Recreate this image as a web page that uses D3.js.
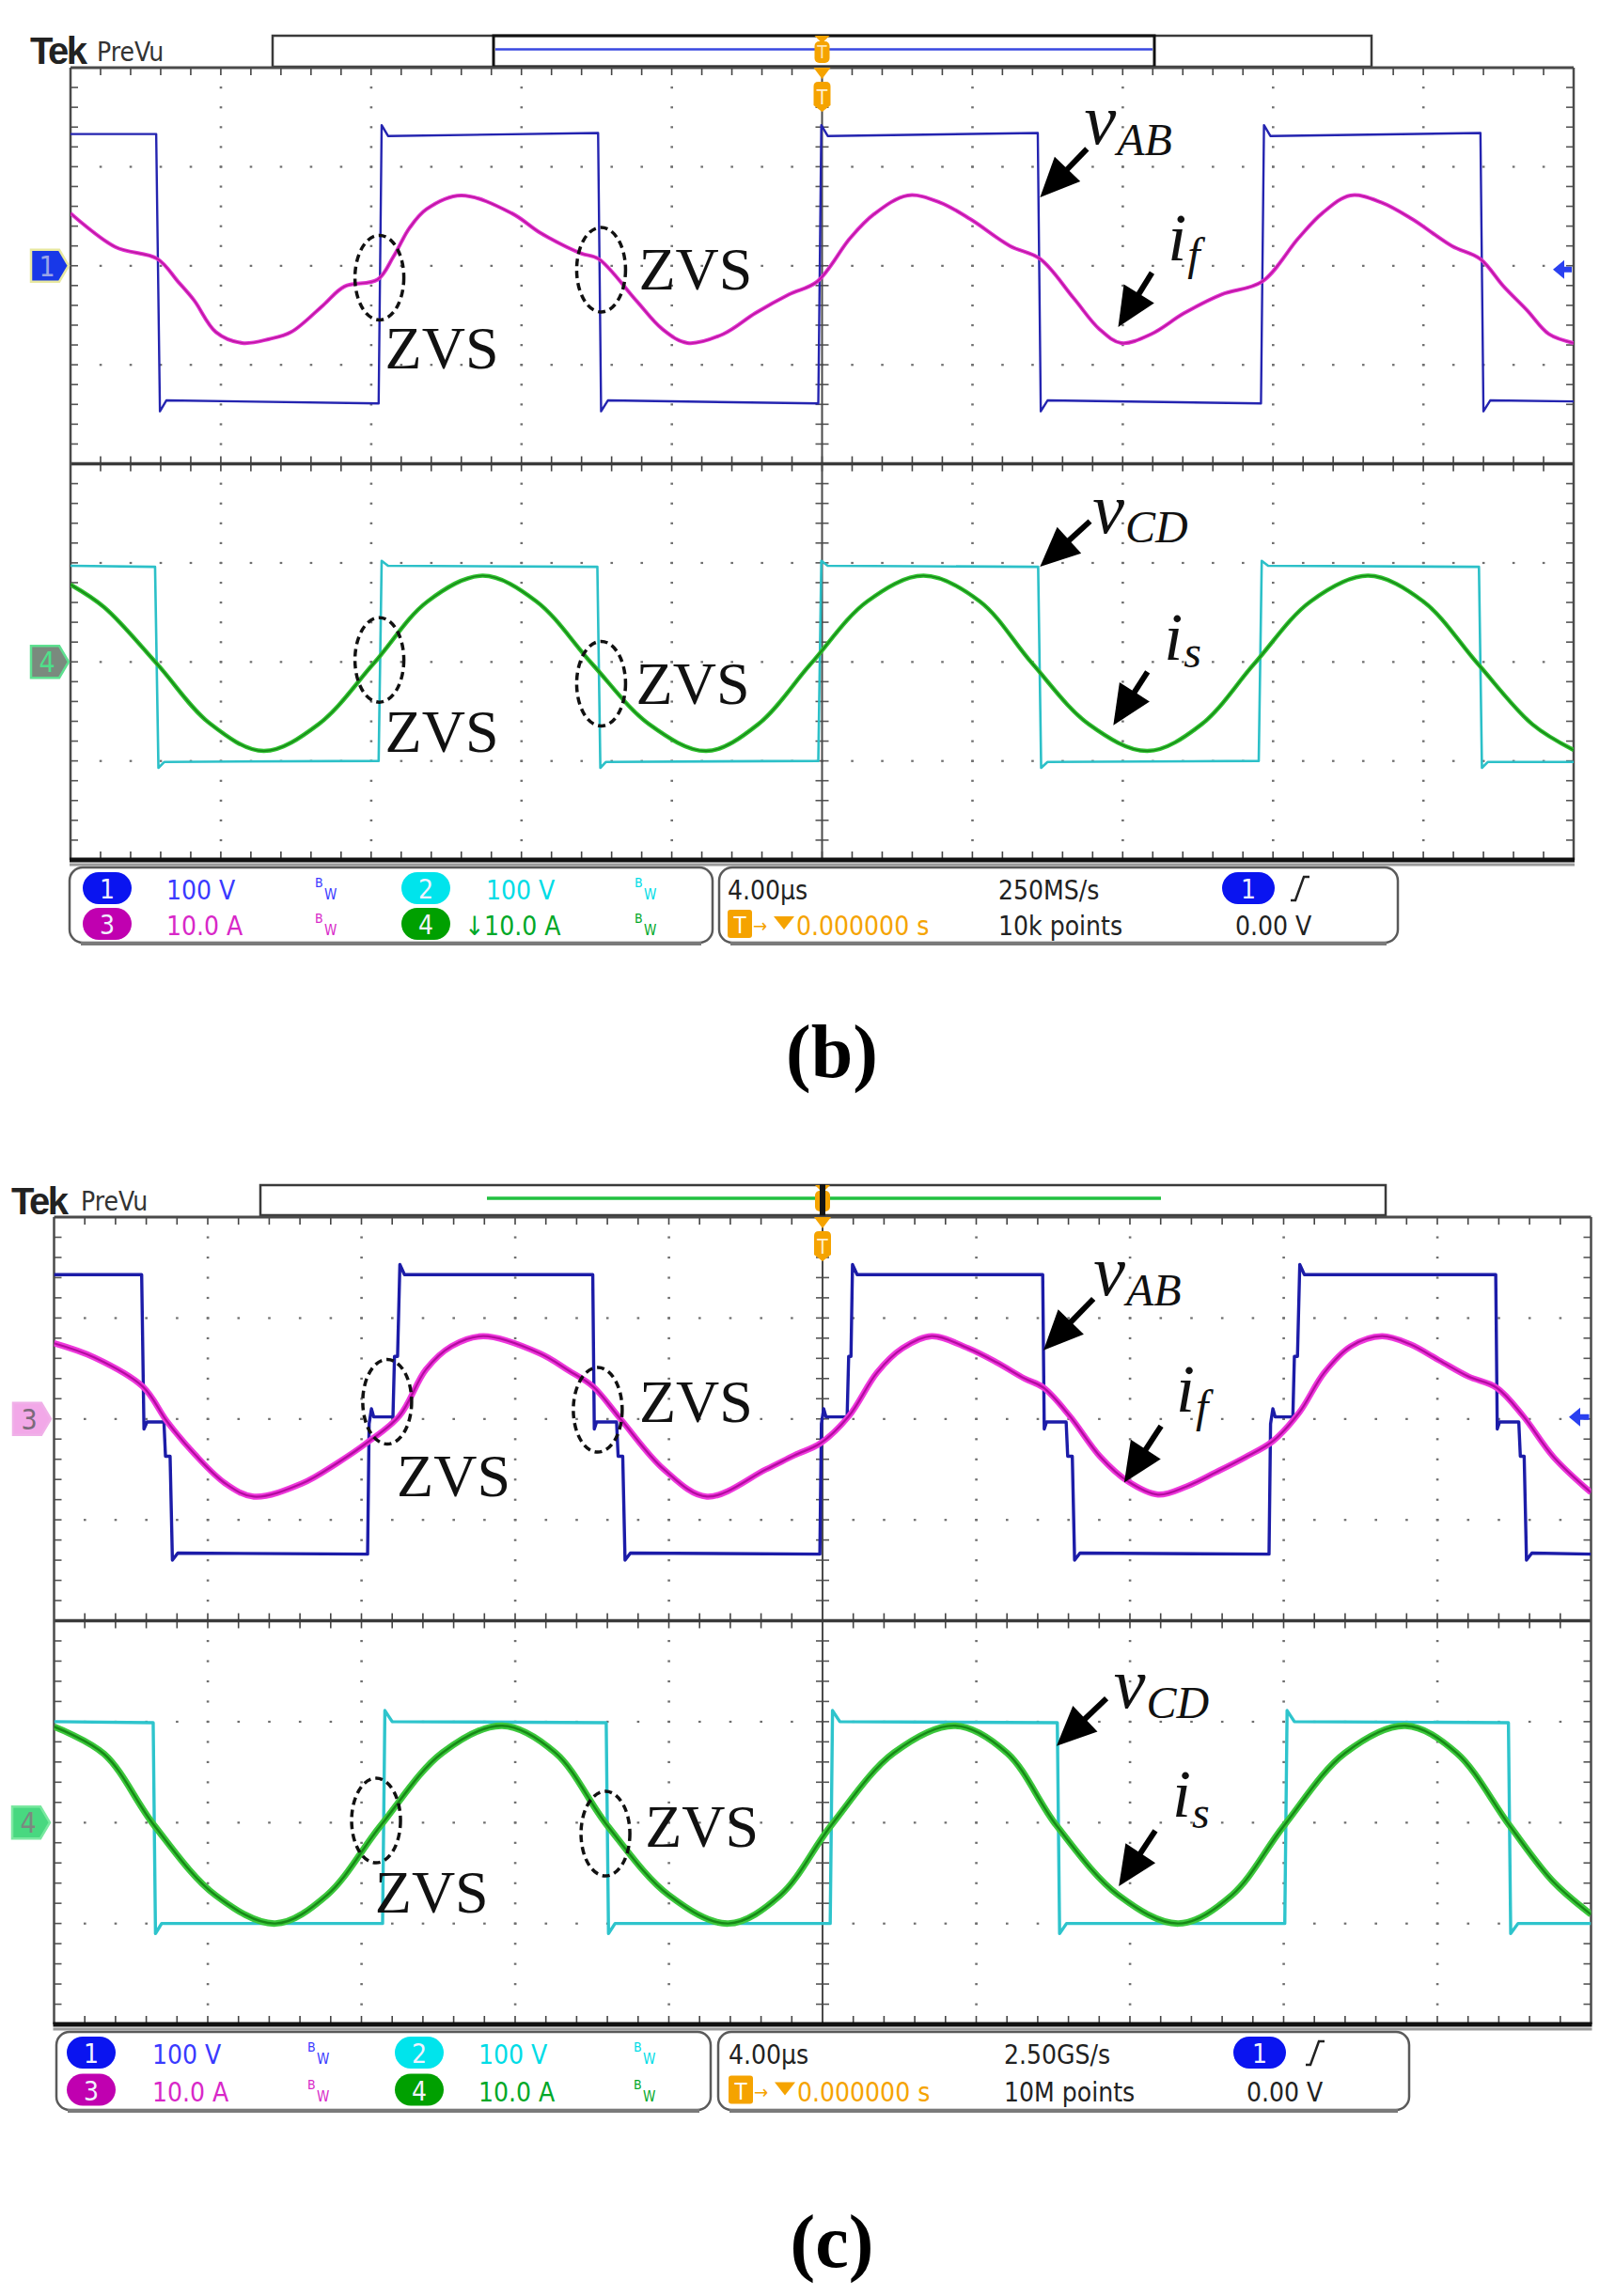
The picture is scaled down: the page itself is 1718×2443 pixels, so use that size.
<!DOCTYPE html>
<html>
<head>
<meta charset="utf-8">
<title>ZVS waveforms (b) and (c)</title>
<script src="https://cdn.jsdelivr.net/npm/d3@7"></script>
<style>
  body { margin: 0; background: #fff; }
  svg { display: block; }
  .ro { font-family: "DejaVu Sans Condensed", "Liberation Sans Narrow", sans-serif; font-size: 28px; }
  .serif { font-family: "Liberation Serif", "Times New Roman", serif; }
</style>
</head>
<body>
<svg id="fig" width="1718" height="2443"></svg>
<script>
// scope settings: 4 us/div over 10 div, trigger at the centre
var timeDomain = [-20, 20];
var voltsPerDiv = 100, ampsPerDiv = 10;

// ---------- (b) ----------  [time us, value V or A]
var vAB_b = [[-20,133],[-17.72,133],[-17.62,-147],[-17.45,-136],[-11.8,-139],[-11.72,142],[-11.55,131],
  [-5.96,134],[-5.88,-147],[-5.7,-136],[-0.1,-139],[-0.02,142],[0.15,131],[5.74,134],[5.82,-147],[6.0,-136],
  [11.68,-139],[11.76,142],[11.93,131],[17.52,134],[17.6,-147],[17.78,-136],[20,-137]];
var if_b = [[-20,5.3],[-18.81,1.9],[-17.69,0.7],[-17.14,-1.6],[-16.71,-3.5],[-16.13,-6.7],[-15.43,-7.8],
  [-14.71,-7.4],[-14.13,-6.7],[-13.28,-4.0],[-12.71,-2.1],[-11.83,-1.4],[-11.41,0.9],[-10.98,3.8],[-10.53,5.7],
  [-9.61,7.1],[-8.26,5.3],[-7.53,3.4],[-6.8,1.9],[-6.38,1.2],[-5.95,0.7],[-4.95,-3.5],[-4.25,-6.4],[-3.58,-7.8],
  [-2.63,-6.9],[-1.78,-4.8],[-0.88,-2.9],[-0.13,-1.6],[0.75,2.8],[1.38,5.2],[2.28,7.1],[3.13,6.4],[3.95,4.7],
  [5.0,2.0],[5.8,0.7],[6.7,-3.3],[7.38,-6.4],[7.96,-7.8],[8.76,-6.9],[9.63,-4.8],[10.63,-2.9],[11.71,-1.6],
  [12.68,2.8],[13.31,5.3],[14.06,7.1],[14.88,6.4],[15.71,4.7],[16.76,2.0],[17.51,0.7],[18.14,-2.1],[18.76,-4.5],
  [19.34,-6.9],[20,-7.8]];
var vCD_b = [[-20,97],[-17.75,96],[-17.66,-107],[-17.5,-101],[-11.8,-100],[-11.72,102],[-11.55,97],[-5.98,96],
  [-5.9,-107],[-5.75,-101],[-0.1,-100],[-0.02,102],[0.15,97],[5.75,96],[5.83,-107],[6.0,-101],[11.62,-100],
  [11.7,102],[11.87,97],[17.48,96],[17.56,-107],[17.72,-101],[20,-101]];
var is_b = [[-20,7.8],[-19.1,5.5],[-17.7,-0.2],[-16.3,-6.2],[-14.86,-9.0],[-13.4,-6.3],[-11.94,-0.2],[-10.5,6.1],
  [-9.03,8.7],[-7.6,6.1],[-6.12,-0.2],[-4.6,-6.3],[-3.08,-9.0],[-1.7,-6.3],[-0.3,-0.2],[1.2,6.1],[2.7,8.7],
  [4.2,6.1],[5.6,-0.2],[7.1,-6.3],[8.66,-9.0],[10.1,-6.3],[11.5,-0.2],[13.0,6.1],[14.53,8.7],[16.0,6.1],
  [17.45,-0.2],[18.9,-6.3],[20,-8.9]];

// ---------- (c) ----------
var vAB_c = [[-20,143],[-17.72,143],[-17.66,-10],[-17.58,-3],[-17.14,-3],[-17.1,-37],[-16.98,-37],[-16.92,-140],
  [-16.78,-133],[-11.84,-134],[-11.8,-5],[-11.74,10],[-11.68,2],[-11.18,2],[-11.14,62],[-11.06,62],[-11.0,153],
  [-10.88,143],[-5.98,143],[-5.94,-10],[-5.88,-3],[-5.36,-3],[-5.32,-37],[-5.2,-37],[-5.14,-140],[-5.0,-133],
  [-0.07,-134],[-0.03,-5],[0.03,10],[0.09,2],[0.64,2],[0.68,62],[0.74,62],[0.78,153],[0.9,143],[5.73,143],
  [5.77,-10],[5.83,-3],[6.34,-3],[6.38,-37],[6.5,-37],[6.56,-140],[6.7,-133],[11.62,-134],[11.66,-5],[11.72,10],
  [11.78,2],[12.24,2],[12.28,62],[12.36,62],[12.42,153],[12.54,143],[17.52,143],[17.56,-10],[17.62,-3],
  [18.12,-3],[18.16,-37],[18.26,-37],[18.32,-140],[18.46,-133],[20,-134]];
var if_c = [[-20,7.5],[-18.96,6.1],[-17.69,3.2],[-17.05,-0.3],[-16.34,-3.5],[-15.54,-6.4],[-14.8,-7.7],
  [-13.55,-6.4],[-12.6,-4.3],[-11.87,-2.4],[-11.01,0.3],[-10.32,4.9],[-9.66,7.2],[-8.83,8.2],[-7.36,6.5],
  [-6.61,4.8],[-5.97,3.2],[-5.26,0.0],[-4.13,-5.0],[-3.01,-7.7],[-1.47,-5.0],[-0.73,-3.6],[-0.05,-2.4],
  [0.69,0.3],[1.42,4.6],[2.08,7.0],[2.84,8.2],[3.79,7.0],[4.53,5.6],[5.26,4.0],[5.75,3.1],[6.43,0.3],
  [7.24,-3.8],[7.95,-6.2],[8.73,-7.5],[9.47,-6.7],[10.23,-5.3],[11.0,-3.8],[11.72,-2.2],[12.4,0.6],
  [13.06,4.6],[13.75,7.2],[14.56,8.2],[15.29,7.4],[16.05,5.8],[16.81,4.2],[17.54,3.1],[18.23,0.3],
  [19.03,-3.8],[20,-7.3]];
var vCD_c = [[-20,100],[-17.42,99],[-17.36,-110],[-17.2,-100],[-11.45,-100],[-11.39,111],[-11.2,100],
  [-5.63,99],[-5.57,-110],[-5.4,-100],[0.2,-100],[0.26,111],[0.45,100],[6.11,99],[6.17,-110],[6.35,-100],
  [12.03,-100],[12.09,111],[12.28,100],[17.85,99],[17.91,-110],[18.1,-100],[20,-100]];
var is_c = [[-20,9.5],[-18.7,6.8],[-17.39,-0.3],[-15.8,-7.2],[-14.24,-10.0],[-12.9,-7.2],[-11.5,-0.3],
  [-9.9,6.9],[-8.34,9.6],[-6.95,6.9],[-5.6,-0.3],[-4.0,-7.2],[-2.45,-10.0],[-1.1,-7.2],[0.22,-0.3],
  [1.85,6.9],[3.45,9.6],[4.8,6.9],[6.09,-0.3],[7.7,-7.2],[9.27,-10.0],[10.65,-7.2],[12.01,-0.3],
  [13.6,6.9],[15.17,9.6],[16.5,6.9],[17.88,-0.3],[19.0,-5.8],[20,-9.1]];

// readout texts
var chanScale_b = ["100 V", "100 V", "10.0 A", "\u219310.0 A"];
var chanScale_c = ["100 V", "100 V", "10.0 A", "10.0 A"];
var horiz_b = ["4.00\u00b5s", "250MS/s", "0.000000 s", "10k points", "0.00 V"];
var horiz_c = ["4.00\u00b5s", "2.50GS/s", "0.000000 s", "10M points", "0.00 V"];

// annotations, in [time us, divisions]: ellipse centre, text start
var zvs_b = [[[-11.78,-0.12],[-11.63,-1.04]], [[-5.88,-0.04],[-4.88,-0.24]]];
var zvs_b2 = [[[-11.78,0.02],[-11.63,-0.91]], [[-5.88,-0.22],[-4.95,-0.42]]];
var zvs_c = [[[-11.33,0.17],[-11.08,-0.77]], [[-5.85,0.09],[-4.77,-0.03]]];
var zvs_c2 = [[[-11.62,0.02],[-11.65,-0.89]], [[-5.65,-0.11],[-4.62,-0.24]]];

var fig = d3.select("#fig");

var panels = [
  { name: "(b)", left: 75, right: 1674, top: 72, bottom: 915, capY: 1146,
    tek: [32, 68], prevu: [103, 65], head: [290, 1459, 38, 71], inner: [525, 1228], headLine: "#3848e0", headDark: false,
    marks: [["1", "top", 33], ["4", "bot", 33]], rightArrow: 1652,
    traces: [
      { sub: "top", data: vAB_b, unit: voltsPerDiv, color: "#2424b0", w: 2.4, curve: d3.curveLinear },
      { sub: "top", data: if_b, unit: ampsPerDiv, color: "#e030d0", w: 4, inner: "#b0108f", curve: d3.curveCatmullRom.alpha(0.5) },
      { sub: "bot", data: vCD_b, unit: voltsPerDiv, color: "#2cc0c8", w: 2.6, curve: d3.curveLinear },
      { sub: "bot", data: is_b, unit: ampsPerDiv, color: "#2fc02f", w: 4.5, inner: "#127a12", curve: d3.curveCatmullRom.alpha(0.5) }
    ],
    zvsTop: zvs_b, zvsBot: zvs_b2,
    labels: [
      { sub: "top", at: [6.98, 1.23], main: "v", sub2: "AB", dy: 12, arrow: [[7.05, 1.18], [5.80, 0.69]] },
      { sub: "top", at: [9.2, 0.05], main: "i", sub2: "f", dy: 10, arrow: [[8.78, -0.07], [7.88, -0.62]] },
      { sub: "bot", at: [7.2, 1.30], main: "v", sub2: "CD", dy: 10, arrow: [[7.13, 1.42], [5.80, 0.96]] },
      { sub: "bot", at: [9.1, 0.02], main: "i", sub2: "s", dy: 8, arrow: [[8.66, -0.10], [7.75, -0.64]] }
    ],
    ro: { top: 923, bottom: 1003, lbox: [74, 758], rbox: [765, 1487], rows: [945, 983],
          cols: [[114, 177, 335], [453, 517, 675]], hx: [774, 1062, 1328, 1373, 1314], texts: chanScale_b, horiz: horiz_b } },
  { name: "(c)", left: 57.5, right: 1692.5, top: 1295, bottom: 2154, capY: 2412,
    tek: [12, 1292], prevu: [86, 1288], head: [277, 1474, 1261, 1293], inner: null, headLine: "#22c040", headDark: true,
    marks: [["3", "top", 14], ["4", "bot", 13]], rightArrow: 1669,
    traces: [
      { sub: "top", data: vAB_c, unit: voltsPerDiv, color: "#1c1ca8", w: 3.4, curve: d3.curveLinear },
      { sub: "top", data: if_c, unit: ampsPerDiv, color: "#ee38dc", w: 6.5, inner: "#a40090", curve: d3.curveCatmullRom.alpha(0.5) },
      { sub: "bot", data: vCD_c, unit: voltsPerDiv, color: "#2ec4cc", w: 3.4, curve: d3.curveLinear },
      { sub: "bot", data: is_c, unit: ampsPerDiv, color: "#3cc83c", w: 7, inner: "#0e780e", curve: d3.curveCatmullRom.alpha(0.5) }
    ],
    zvsTop: zvs_c, zvsBot: zvs_c2,
    labels: [
      { sub: "top", at: [7.05, 1.23], main: "v", sub2: "AB", dy: 11, arrow: [[7.05, 1.19], [5.75, 0.68]] },
      { sub: "top", at: [9.2, 0.07], main: "i", sub2: "f", dy: 11, arrow: [[8.81, -0.07], [7.85, -0.63]] },
      { sub: "bot", at: [7.58, 1.14], main: "v", sub2: "CD", dy: 11, arrow: [[7.39, 1.23], [6.09, 0.76]] },
      { sub: "bot", at: [9.1, 0.06], main: "i", sub2: "s", dy: 12, arrow: [[8.66, -0.08], [7.71, -0.63]] }
    ],
    ro: { top: 2162, bottom: 2245, lbox: [60, 756], rbox: [764, 1499], rows: [2184, 2223.5],
          cols: [[97, 162, 327], [446, 509, 674]], hx: [775, 1068, 1340, 1389, 1326], texts: chanScale_c, horiz: horiz_c } }
];

var chanFill = ["#0a14f0", "#00e4ec", "#c000b0", "#00a000"];
var chanText = ["#3a3aff", "#00dce6", "#d828c8", "#00a828"];
var orange = "#f5a300";

panels.forEach(function(p, pi) {
  var g = fig.append("g");
  var mid = (p.top + p.bottom) / 2;
  var x = d3.scaleLinear().domain(timeDomain).range([p.left, p.right]);
  var ys = {
    top: d3.scaleLinear().domain([-2, 2]).range([mid, p.top]),
    bot: d3.scaleLinear().domain([-2, 2]).range([p.bottom, mid])
  };

  // ---- header ----
  g.append("text").attr("x", p.tek[0]).attr("y", p.tek[1])
    .style("font", "bold 40px 'Liberation Sans', sans-serif").style("letter-spacing", "-2.5px").attr("fill", "#222").text("Tek");
  g.append("text").attr("x", p.prevu[0]).attr("y", p.prevu[1]).attr("class", "ro")
    .style("font-size", "28px").attr("fill", "#333").text("PreVu");
  var h = p.head;
  g.append("rect").attr("x", h[0]).attr("y", h[2]).attr("width", h[1] - h[0]).attr("height", h[3] - h[2])
    .attr("fill", "#fff").attr("stroke", "#3a3a3a").attr("stroke-width", 2.5);
  var hm = (h[2] + h[3]) / 2;
  if (p.inner) {
    g.append("rect").attr("x", p.inner[0]).attr("y", h[2]).attr("width", p.inner[1] - p.inner[0]).attr("height", h[3] - h[2])
      .attr("fill", "none").attr("stroke", "#111").attr("stroke-width", 3);
    g.append("line").attr("x1", p.inner[0] + 2).attr("x2", p.inner[1] - 2).attr("y1", hm - 2).attr("y2", hm - 2)
      .attr("stroke", p.headLine).attr("stroke-width", 2.5);
  } else {
    g.append("line").attr("x1", 518).attr("x2", 1235).attr("y1", hm - 2).attr("y2", hm - 2)
      .attr("stroke", p.headLine).attr("stroke-width", 3.5);
  }
  var x0 = x(0);
  // trigger marker in the header
  g.append("rect").attr("x", x0 - 8).attr("y", h[2] + 6).attr("width", 16).attr("height", h[3] - h[2] - 10).attr("rx", 5).attr("fill", orange);
  g.append("path").attr("d", `M${x0 - 8},${h[2]} L${x0 + 8},${h[2]} L${x0},${h[2] + 8} Z`).attr("fill", orange);
  if (p.headDark) g.append("rect").attr("x", x0 - 3).attr("y", h[2] - 1).attr("width", 6).attr("height", h[3] - h[2] + 2).attr("fill", "#151515");
  else g.append("text").attr("x", x0).attr("y", h[3] - 9).attr("text-anchor", "middle").attr("class", "ro").style("font-size", "19px").attr("fill", "#ffe6b0").text("T");

  // ---- graticule ----
  var grid = g.append("g");
  var majorT = d3.range(-16, 16.01, 4).filter(t => Math.abs(t) > 1e-6);
  var minorT = d3.range(-19.2, 19.21, 0.8);
  var minorD = d3.range(-1.8, 1.81, 0.2);
  ["top", "bot"].forEach(function(s) {
    var y = ys[s];
    majorT.forEach(function(t) {
      minorD.forEach(function(d) {
        grid.append("rect").attr("x", x(t) - 1.2).attr("y", y(d) - 1).attr("width", 2.6).attr("height", 2.2).attr("fill", "#6e6e6e");
      });
    });
    [-1, 0, 1].forEach(function(d) {
      minorT.forEach(function(t) {
        grid.append("rect").attr("x", x(t) - 1.2).attr("y", y(d) - 1).attr("width", 2.6).attr("height", 2.2).attr("fill", "#6e6e6e");
      });
    });
    minorD.forEach(function(d) {
      var yy = y(d);
      [[p.left, p.left + 8], [p.right - 8, p.right], [x0 - 7, x0 + 7]].forEach(function(seg) {
        grid.append("line").attr("x1", seg[0]).attr("x2", seg[1]).attr("y1", yy).attr("y2", yy).attr("stroke", "#555").attr("stroke-width", 1.6);
      });
    });
  });
  minorT.forEach(function(t) {
    var xx = x(t);
    [[p.top, p.top + 8], [mid - 8, mid + 8], [p.bottom - 9, p.bottom]].forEach(function(seg) {
      grid.append("line").attr("x1", xx).attr("x2", xx).attr("y1", seg[0]).attr("y2", seg[1]).attr("stroke", "#444").attr("stroke-width", 1.6);
    });
  });
  grid.append("line").attr("x1", x0).attr("x2", x0).attr("y1", p.top).attr("y2", p.bottom).attr("stroke", "#4a4a4a").attr("stroke-width", 2);
  grid.append("line").attr("x1", p.left).attr("x2", p.right).attr("y1", p.top).attr("y2", p.top).attr("stroke", "#4a4a4a").attr("stroke-width", 3);
  grid.append("line").attr("x1", p.left).attr("x2", p.right).attr("y1", mid).attr("y2", mid).attr("stroke", "#3a3a3a").attr("stroke-width", 3.5);
  [p.left, p.right].forEach(function(xx) {
    grid.append("line").attr("x1", xx).attr("x2", xx).attr("y1", p.top).attr("y2", p.bottom).attr("stroke", "#4a4a4a").attr("stroke-width", 2.5);
  });
  grid.append("line").attr("x1", p.left - 1).attr("x2", p.right + 1).attr("y1", p.bottom).attr("y2", p.bottom).attr("stroke", "#111").attr("stroke-width", 5);
  grid.append("line").attr("x1", p.left - 1).attr("x2", p.right + 1).attr("y1", p.bottom + 5).attr("y2", p.bottom + 5).attr("stroke", "#9a9a9a").attr("stroke-width", 3);

  // trigger marker under the header
  g.append("path").attr("d", `M${x0 - 9},${p.top} L${x0 + 9},${p.top} L${x0},${p.top + 12} Z`).attr("fill", orange);
  g.append("path").attr("d", `M${x0 - 9},${p.top + 20} Q${x0 - 9},${p.top + 15} ${x0 - 4},${p.top + 15} L${x0 + 4},${p.top + 15} Q${x0 + 9},${p.top + 15} ${x0 + 9},${p.top + 20} L${x0 + 9},${p.top + 40} L${x0},${p.top + 47} L${x0 - 9},${p.top + 40} Z`).attr("fill", orange);
  g.append("text").attr("x", x0).attr("y", p.top + 39).attr("text-anchor", "middle").attr("class", "ro").style("font-size", "21px").attr("fill", "#fff0d0").text("T");

  // ---- traces ----
  var clipId = "clip" + pi;
  fig.append("clipPath").attr("id", clipId).append("rect")
    .attr("x", p.left).attr("y", p.top).attr("width", p.right - p.left).attr("height", p.bottom - p.top);
  var tg = g.append("g").attr("clip-path", `url(#${clipId})`);
  p.traces.forEach(function(tr) {
    var y = ys[tr.sub];
    var line = d3.line().curve(tr.curve).x(d => x(d[0])).y(d => y(d[1] / tr.unit));
    tg.append("path").datum(tr.data).attr("d", line).attr("fill", "none")
      .attr("stroke", tr.color).attr("stroke-width", tr.w).attr("stroke-linejoin", "round");
    if (tr.inner) tg.append("path").datum(tr.data).attr("d", line).attr("fill", "none")
      .attr("stroke", tr.inner).attr("stroke-width", tr.w * 0.35).attr("opacity", 0.8);
  });

  // ---- channel markers ----
  p.marks.forEach(function(m) {
    var cy = ys[m[1]](0), mx = m[2];
    var fill, stroke, txt;
    if (m[0] === "1") { fill = "#1838e8"; stroke = "#e8e8a0"; txt = "#9aa4e8"; }
    else if (m[0] === "3") { fill = "#f2a8e8"; stroke = "#f0b0e8"; txt = "#7a6a7a"; }
    else if (pi === 0) { fill = "#7a8a7e"; stroke = "#5ee090"; txt = "#4ee08a"; }
    else { fill = "#48d880"; stroke = "#7ae8a0"; txt = "#7a8a80"; }
    g.append("path").attr("d", `M${mx},${cy - 17} L${mx + 30},${cy - 17} L${mx + 40},${cy} L${mx + 30},${cy + 17} L${mx},${cy + 17} Z`)
      .attr("fill", fill).attr("stroke", stroke).attr("stroke-width", 2.5);
    g.append("text").attr("x", mx + 17).attr("y", cy + 11).attr("text-anchor", "middle").attr("class", "ro")
      .style("font-size", "30px").attr("fill", txt).text(m[0]);
  });
  var ra = ys.top(0) + (pi === 0 ? 4 : -2);
  g.append("path").attr("d", `M${p.rightArrow},${ra} L${p.rightArrow + 12},${ra - 10} L${p.rightArrow + 12},${ra - 3} L${p.right - 2},${ra - 3} L${p.right - 2},${ra + 3} L${p.rightArrow + 12},${ra + 3} L${p.rightArrow + 12},${ra + 10} Z`)
    .attr("fill", "#2a40f0");

  // ---- ZVS annotations ----
  [["top", p.zvsTop], ["bot", p.zvsBot]].forEach(function(z) {
    var y = ys[z[0]];
    z[1].forEach(function(a) {
      g.append("ellipse").attr("cx", x(a[0][0])).attr("cy", y(a[0][1])).attr("rx", 26).attr("ry", 45)
        .attr("fill", "none").attr("stroke", "#111").attr("stroke-width", 3.5).attr("stroke-dasharray", "8,5");
      g.append("text").attr("x", x(a[1][0])).attr("y", y(a[1][1])).attr("class", "serif")
        .style("font-size", "64px").attr("fill", "#111").text("ZVS");
    });
  });

  // ---- signal labels with arrows ----
  p.labels.forEach(function(l) {
    var y = ys[l.sub];
    var lx = x(l.at[0]), ly = y(l.at[1]);
    var t = g.append("text").attr("x", lx).attr("y", ly).attr("class", "serif")
      .style("font-style", "italic").style("font-size", l.main === "v" ? "76px" : "72px").attr("fill", "#111").text(l.main);
    var bw = t.node().getComputedTextLength();
    g.append("text").attr("x", lx + bw + 1).attr("y", ly + l.dy).attr("class", "serif")
      .style("font-style", "italic").style("font-size", "48px").attr("fill", "#111").text(l.sub2);
    var ax1 = x(l.arrow[0][0]), ay1 = y(l.arrow[0][1]), ax2 = x(l.arrow[1][0]), ay2 = y(l.arrow[1][1]);
    var ang = Math.atan2(ay2 - ay1, ax2 - ax1), hl = 42, hw = 19;
    var bx = ax2 - hl * Math.cos(ang), by = ay2 - hl * Math.sin(ang);
    g.append("line").attr("x1", ax1).attr("y1", ay1).attr("x2", bx + 4 * Math.cos(ang)).attr("y2", by + 4 * Math.sin(ang))
      .attr("stroke", "#000").attr("stroke-width", 6);
    g.append("path").attr("d", `M${ax2},${ay2} L${bx + hw * Math.sin(ang)},${by - hw * Math.cos(ang)} L${bx - hw * Math.sin(ang)},${by + hw * Math.cos(ang)} Z`)
      .attr("fill", "#000");
  });

  // ---- readout ----
  var r = p.ro;
  [r.lbox, r.rbox].forEach(function(b) {
    g.append("rect").attr("x", b[0]).attr("y", r.top).attr("width", b[1] - b[0]).attr("height", r.bottom - r.top)
      .attr("rx", 14).attr("fill", "#fff").attr("stroke", "#5a5a5a").attr("stroke-width", 2.5);
    g.append("line").attr("x1", b[0] + 12).attr("x2", b[1] - 12).attr("y1", r.bottom + 1).attr("y2", r.bottom + 1)
      .attr("stroke", "#7a7a7a").attr("stroke-width", 4);
  });
  r.texts.forEach(function(txt, ci) {
    var col = r.cols[ci % 2], cy = r.rows[Math.floor(ci / 2)];
    g.append("rect").attr("x", col[0] - 26).attr("y", cy - 17).attr("width", 52).attr("height", 34).attr("rx", 17).attr("fill", chanFill[ci]);
    g.append("text").attr("x", col[0]).attr("y", cy + 11).attr("text-anchor", "middle").attr("class", "ro").attr("fill", "#f2f2ff").text(String(ci + 1));
    var tx = txt.charAt(0) === "\u2193" ? col[1] - 23 : col[1];
    g.append("text").attr("x", tx).attr("y", cy + 12).attr("class", "ro").attr("fill", chanText[ci]).text(txt);
    g.append("text").attr("x", col[2]).attr("y", cy - 1).attr("class", "ro").style("font-size", "14px").attr("fill", chanText[ci]).text("B");
    g.append("text").attr("x", col[2] + 10).attr("y", cy + 12).attr("class", "ro").style("font-size", "15px").attr("fill", chanText[ci]).text("W");
  });
  var hx = r.hx, row1 = r.rows[0], row2 = r.rows[1];
  g.append("text").attr("x", hx[0]).attr("y", row1 + 12).attr("class", "ro").attr("fill", "#222").text(r.horiz[0]);
  g.append("text").attr("x", hx[1]).attr("y", row1 + 12).attr("class", "ro").attr("fill", "#222").text(r.horiz[1]);
  g.append("rect").attr("x", hx[2] - 28).attr("y", row1 - 17).attr("width", 56).attr("height", 34).attr("rx", 17).attr("fill", chanFill[0]);
  g.append("text").attr("x", hx[2]).attr("y", row1 + 11).attr("text-anchor", "middle").attr("class", "ro").attr("fill", "#f2f2ff").text("1");
  g.append("path").attr("d", `M${hx[3]},${row1 + 13} L${hx[3] + 5},${row1 + 13} L${hx[3] + 14},${row1 - 12} L${hx[3] + 20},${row1 - 12}`)
    .attr("fill", "none").attr("stroke", "#222").attr("stroke-width", 2.5);
  g.append("rect").attr("x", hx[0]).attr("y", row2 - 15).attr("width", 26).attr("height", 30).attr("rx", 3).attr("fill", orange);
  g.append("text").attr("x", hx[0] + 13).attr("y", row2 + 10).attr("text-anchor", "middle").attr("class", "ro").style("font-size", "24px").attr("fill", "#fff").text("T");
  g.append("text").attr("x", hx[0] + 27).attr("y", row2 + 9).attr("class", "ro").style("font-size", "20px").attr("fill", orange).text("\u2192");
  g.append("path").attr("d", `M${hx[0] + 49},${row2 - 8} L${hx[0] + 71},${row2 - 8} L${hx[0] + 60},${row2 + 6} Z`).attr("fill", orange);
  g.append("text").attr("x", hx[0] + 73).attr("y", row2 + 12).attr("class", "ro").attr("fill", orange).text(r.horiz[2]);
  g.append("text").attr("x", hx[1]).attr("y", row2 + 12).attr("class", "ro").attr("fill", "#222").text(r.horiz[3]);
  g.append("text").attr("x", hx[4]).attr("y", row2 + 12).attr("class", "ro").attr("fill", "#222").text(r.horiz[4]);

  // caption
  g.append("text").attr("x", 885).attr("y", p.capY).attr("text-anchor", "middle").attr("class", "serif")
    .style("font-size", "80px").style("font-weight", "bold").attr("fill", "#000").text(p.name);
});
</script>
</body>
</html>
